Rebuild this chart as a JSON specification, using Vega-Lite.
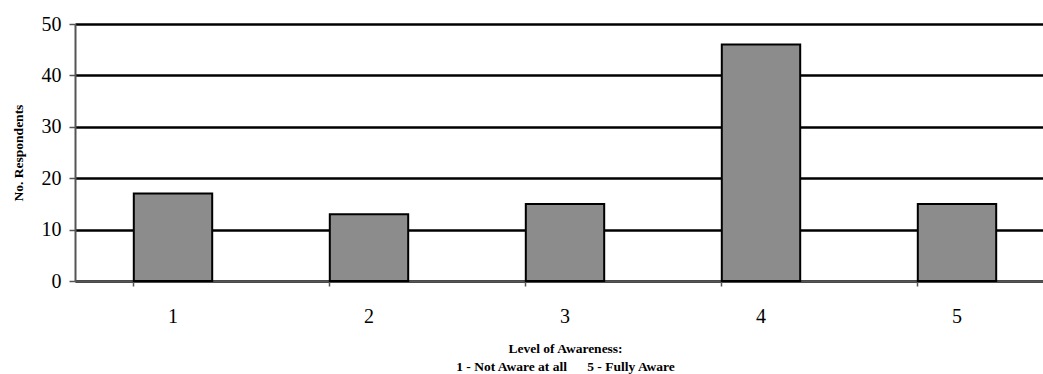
{
  "$schema": "https://vega.github.io/schema/vega-lite/v6.json",
  "autosize": {"type": "none"},
  "width": 980,
  "height": 257,
  "padding": {"left": 75, "top": 24, "right": 0, "bottom": 93},
  "background": "white",
  "config": {"view": {"stroke": null}, "font": "Liberation Serif"},
  "data": {"values": [
    {"level": "1", "count": 17},
    {"level": "2", "count": 13},
    {"level": "3", "count": 15},
    {"level": "4", "count": 46},
    {"level": "5", "count": 15}
  ]},
  "mark": {"type": "bar", "fill": "#8c8c8c", "stroke": "#000000", "strokeWidth": 2},
  "encoding": {
    "x": {
      "field": "level", "type": "nominal", "sort": null,
      "scale": {"paddingInner": 0.6, "paddingOuter": 0.3},
      "axis": {
        "title": ["Level of Awareness:", "1 - Not Aware at all\u00a0\u00a0\u00a0\u00a0\u00a0 5 - Fully Aware"],
        "titleFont": "Liberation Serif", "titleFontSize": 13.5, "titleFontWeight": "bold",
        "titleColor": "#000000", "titleLineHeight": 18, "titlePadding": 15,
        "labelAngle": 0, "labelFont": "Liberation Serif", "labelFontSize": 20,
        "labelColor": "#000000", "labelPadding": 20,
        "bandPosition": 0, "ticks": true, "tickSize": 5, "tickColor": "#555555", "tickWidth": 1.5,
        "domainColor": "#555555", "domainWidth": 2, "grid": false
      }
    },
    "y": {
      "field": "count", "type": "quantitative",
      "scale": {"domain": [0, 50]},
      "axis": {
        "values": [0, 10, 20, 30, 40, 50],
        "title": "No. Respondents", "titleFont": "Liberation Serif", "titleFontSize": 13.5,
        "titleFontWeight": "bold", "titleColor": "#000000", "titlePadding": 16,
        "labelFont": "Liberation Serif", "labelFontSize": 20, "labelColor": "#000000",
        "labelPadding": 8, "tickSize": 6, "tickColor": "#555555", "tickWidth": 1.5,
        "domainColor": "#555555", "domainWidth": 2,
        "grid": true, "gridColor": "#000000", "gridWidth": 2.5, "gridOpacity": 1
      }
    }
  }
}
